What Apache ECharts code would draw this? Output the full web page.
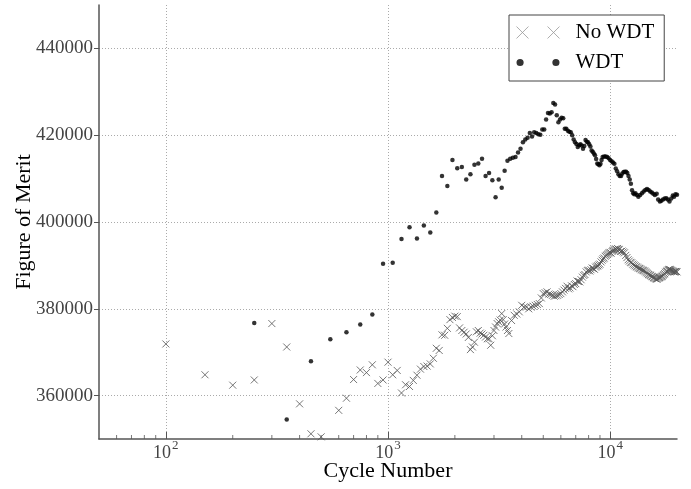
<!DOCTYPE html>
<html>
<head>
<meta charset="utf-8">
<script src="https://cdn.jsdelivr.net/npm/echarts@6/dist/echarts.min.js"></script>
<style>
html,body{margin:0;padding:0;background:#fff;}
#chart{width:691px;height:489px;}
</style>
</head>
<body>
<div id="chart"></div>
<script>
// Cycle number, figure of merit
const noWdtData = [[100,371900],[150,364800],[200,362400],[250,363600],[300,376600],[350,371200],[400,358100],[450,351200],[500,350500],[600,356600],[650,359400],[700,363700],[750,365900],[800,365300],[850,367100],[900,362800],[950,363600],[1000,367700],[1050,364800],[1100,365800],[1150,360600],[1200,362500],[1250,362100],[1300,363500],[1350,364700],[1400,366100],[1450,366700],[1500,366800],[1550,367300],[1600,368600],[1650,370900],[1700,370400],[1750,374000],[1800,373900],[1850,375500],[1900,377500],[1950,378000],[2000,378300],[2050,378200],[2100,375600],[2150,375000],[2200,374600],[2250,374200],[2300,373400],[2350,370600],[2400,371200],[2450,372300],[2500,374700],[2550,375000],[2600,374400],[2650,374200],[2700,373900],[2750,373500],[2800,373100],[2850,373100],[2900,371600],[2950,373800],[3000,375000],[3050,375800],[3100,376600],[3150,377000],[3200,377400],[3250,378900],[3300,377500],[3350,376500],[3400,375800],[3450,375000],[3500,374300],[3600,377300],[3700,378500],[3800,378800],[3900,379300],[4000,380800],[4100,380400],[4200,380400],[4300,380000],[4400,380400],[4500,380600],[4600,380800],[4700,381000],[4800,381200],[4900,382500],[5000,383500],[5100,383700],[5200,383900],[5300,383400],[5400,383300],[5500,383100],[5600,382900],[5700,383000],[5800,383100],[5900,383300],[6000,383500],[6100,383900],[6200,384300],[6300,384700],[6400,385200],[6500,384600],[6600,384800],[6700,385300],[6800,385100],[6900,385600],[7000,385800],[7100,386400],[7200,386300],[7300,386200],[7400,386700],[7500,387300],[7600,387700],[7700,387900],[7800,388500],[7900,388800],[8000,388900],[8100,388700],[8200,389000],[8300,389400],[8400,389300],[8500,389100],[8600,389600],[8700,389800],[8800,389900],[8900,390100],[9000,390300],[9100,390800],[9200,391200],[9300,391500],[9400,391700],[9500,392100],[9600,392300],[9700,392500],[9800,392700],[9900,392900],[10000,393000],[10100,392800],[10200,393200],[10300,393400],[10400,393500],[10500,393700],[10600,393800],[10700,393600],[10800,393900],[10900,393700],[11000,393600],[11150,393200],[11300,393300],[11450,393100],[11600,392900],[11750,392300],[11900,391800],[12050,391300],[12200,391000],[12350,390700],[12500,390600],[12650,390300],[12800,390100],[12950,389900],[13100,389700],[13250,389600],[13400,389400],[13550,389300],[13700,389200],[13850,389000],[14000,388900],[14150,388800],[14300,388700],[14450,388500],[14600,388300],[14750,388100],[14900,387900],[15050,387800],[15200,387700],[15350,387500],[15500,387400],[15650,387200],[15800,387100],[15950,387000],[16100,386900],[16250,386800],[16400,387000],[16550,387100],[16700,387200],[16850,387300],[17000,387400],[17150,387500],[17300,387700],[17450,387900],[17600,388100],[17750,388400],[17900,388600],[18050,388700],[18200,388900],[18350,389000],[18500,389100],[18650,389000],[18800,388900],[18950,388800],[19100,388700],[19250,388600],[19400,388500],[19550,388500],[19700,388600],[19850,388600],[20000,388500]];

const wdtData = [[250,376700],[350,354500],[450,367900],[550,373000],[650,374600],[750,376400],[850,378700],[950,390400],[1050,390600],[1150,396100],[1250,398800],[1350,396200],[1450,399200],[1550,397600],[1650,402200],[1750,410600],[1850,408300],[1950,414300],[2050,412400],[2150,412700],[2250,409800],[2350,411000],[2450,413200],[2550,413500],[2650,414600],[2750,410600],[2850,411300],[2950,409600],[3050,405700],[3150,409800],[3250,407900],[3350,411800],[3450,414100],[3550,414600],[3650,414800],[3750,415000],[3850,416000],[3950,416900],[4050,418400],[4150,419000],[4250,419400],[4350,420500],[4450,419700],[4550,420700],[4650,420500],[4750,420200],[4850,420100],[4950,421300],[5050,421300],[5150,423600],[5250,425100],[5350,425000],[5450,425300],[5550,427400],[5650,427100],[5750,424600],[5850,423000],[5950,423600],[6050,424000],[6150,423900],[6250,421500],[6350,421500],[6450,421000],[6550,420800],[6650,420700],[6750,420000],[6850,419000],[6950,418400],[7050,418000],[7150,417300],[7250,417700],[7350,417900],[7450,417600],[7550,416900],[7650,417500],[7750,418900],[7850,418500],[7950,418400],[8050,417900],[8150,417400],[8250,416500],[8350,416200],[8450,415800],[8550,415400],[8650,414500],[8750,413500],[8850,413300],[8950,413100],[9050,413400],[9150,414300],[9250,415000],[9400,415100],[9550,415100],[9700,415000],[9850,414700],[10000,414300],[10150,414000],[10300,413700],[10450,413400],[10600,412300],[10750,411700],[10900,411000],[11050,410600],[11200,410600],[11350,411200],[11500,411500],[11650,411600],[11800,411600],[11950,411300],[12100,410600],[12250,409800],[12400,408800],[12550,407300],[12700,406600],[12850,406400],[13000,406600],[13200,406200],[13400,405800],[13650,406200],[13900,406600],[14150,407000],[14400,407400],[14650,407600],[14900,407400],[15150,407000],[15400,406800],[15650,406500],[15900,406200],[16200,406500],[16450,405200],[16750,404700],[17000,404900],[17300,405200],[17600,405400],[17900,405500],[18200,405200],[18500,404700],[18850,405400],[19150,406100],[19400,405800],[19700,406400],[20000,406300]];

const minorTickCycles = [60,70,80,90,200,300,400,500,600,700,800,900,2000,3000,4000,5000,6000,7000,8000,9000];
const xRange = [50, 20000];
const yRange = [350000, 450000];

const FONT = "'Liberation Serif', 'DejaVu Serif', serif";
const X_PATH = 'path://M0,0L10,10M10,0L0,10';

const chart = echarts.init(document.getElementById('chart'), null, {renderer: 'canvas'});
chart.setOption({
  animation: false,
  backgroundColor: '#fff',
  grid: {left: 99, right: 14, top: 5, bottom: 50, containLabel: false, outerBoundsMode: 'none'},
  legend: {
    orient: 'vertical',
    left: 509, top: 15,
    padding: [7, 10, 8, 7],
    itemGap: 9,
    itemWidth: 43, itemHeight: 12,
    borderColor: '#444', borderWidth: 1,
    backgroundColor: '#fff',
    textStyle: {fontFamily: FONT, fontSize: 21, color: '#000', padding: [0, 0, 0, 11]},
    data: [
      {name: 'No WDT', icon: 'path://M0,0L10,10M10,0L0,10M26,0L36,10M36,0L26,10',
       itemStyle: {color: 'rgba(0,0,0,0)', borderColor: '#999', borderWidth: 1}},
      {name: 'WDT', icon: 'path://M0,5a3,3 0 1,0 6,0a3,3 0 1,0 -6,0M30,5a3,3 0 1,0 6,0a3,3 0 1,0 -6,0',
       itemStyle: {color: '#000', borderWidth: 0}}
    ]
  },
  xAxis: {
    type: 'log', logBase: 10,
    min: xRange[0], max: xRange[1],
    name: 'Cycle Number', nameLocation: 'middle', nameGap: 21, nameMoveOverlap: false,
    nameTextStyle: {fontFamily: FONT, fontSize: 22, color: '#000', verticalAlign: 'top'},
    axisLine: {show: true, lineStyle: {color: '#555', width: 1.5}},
    axisTick: {show: true, inside: true, length: 7, lineStyle: {color: '#555', width: 1}},
    minorTick: {show: false},
    splitLine: {show: true, showMinLine: false, showMaxLine: false, lineStyle: {color: '#aaa', type: [1, 2], width: 1}},
    axisLabel: {
      margin: 0,
      showMinLabel: false, showMaxLabel: false,
      formatter: function (v) {
        const e = Math.log10(v);
        const r = Math.round(e);
        if (Math.abs(e - r) > 1e-6) return '';
        return '{b|10}{s|' + r + '}';
      },
      rich: {
        b: {fontFamily: FONT, fontSize: 18, color: '#444', lineHeight: 23, verticalAlign: 'bottom'},
        s: {fontFamily: FONT, fontSize: 13, color: '#444', lineHeight: 23, verticalAlign: 'top', padding: [0, 0, 0, 1]}
      }
    }
  },
  yAxis: {
    type: 'value',
    min: yRange[0], max: yRange[1], splitNumber: 5,
    name: 'Figure of Merit', nameLocation: 'middle', nameGap: 64, nameMoveOverlap: false,
    nameTextStyle: {fontFamily: FONT, fontSize: 22, color: '#000'},
    axisLine: {show: true, lineStyle: {color: '#555', width: 1.5}},
    axisTick: {show: true, inside: false, length: 5, lineStyle: {color: '#555', width: 1}},
    splitLine: {show: true, showMinLine: false, showMaxLine: false, lineStyle: {color: '#aaa', type: [1, 2], width: 1}},
    axisLabel: {
      margin: 6,
      showMinLabel: false, showMaxLabel: false,
      fontFamily: FONT, fontSize: 19, color: '#444',
      formatter: function (v) { return (v % 20000 === 0) ? String(v) : ''; }
    }
  },
  series: [
    {
      name: 'No WDT', type: 'scatter',
      data: noWdtData,
      symbol: X_PATH, symbolSize: 7,
      itemStyle: {color: 'rgba(0,0,0,0)', borderColor: '#555', borderWidth: 1},
      clip: true, silent: true, z: 3
    },
    {
      name: 'WDT', type: 'scatter',
      data: wdtData,
      symbol: 'circle', symbolSize: 4.5,
      itemStyle: {color: '#000', borderWidth: 0},
      clip: true, silent: true, z: 4
    },
    {
      name: 'minor ticks', type: 'scatter',
      data: minorTickCycles.map(c => [c, yRange[0]]),
      symbol: 'rect', symbolSize: [1, 4], symbolOffset: [0, -2],
      itemStyle: {color: '#555'},
      clip: false, silent: true, z: 5
    }
  ]
});
</script>
</body>
</html>
